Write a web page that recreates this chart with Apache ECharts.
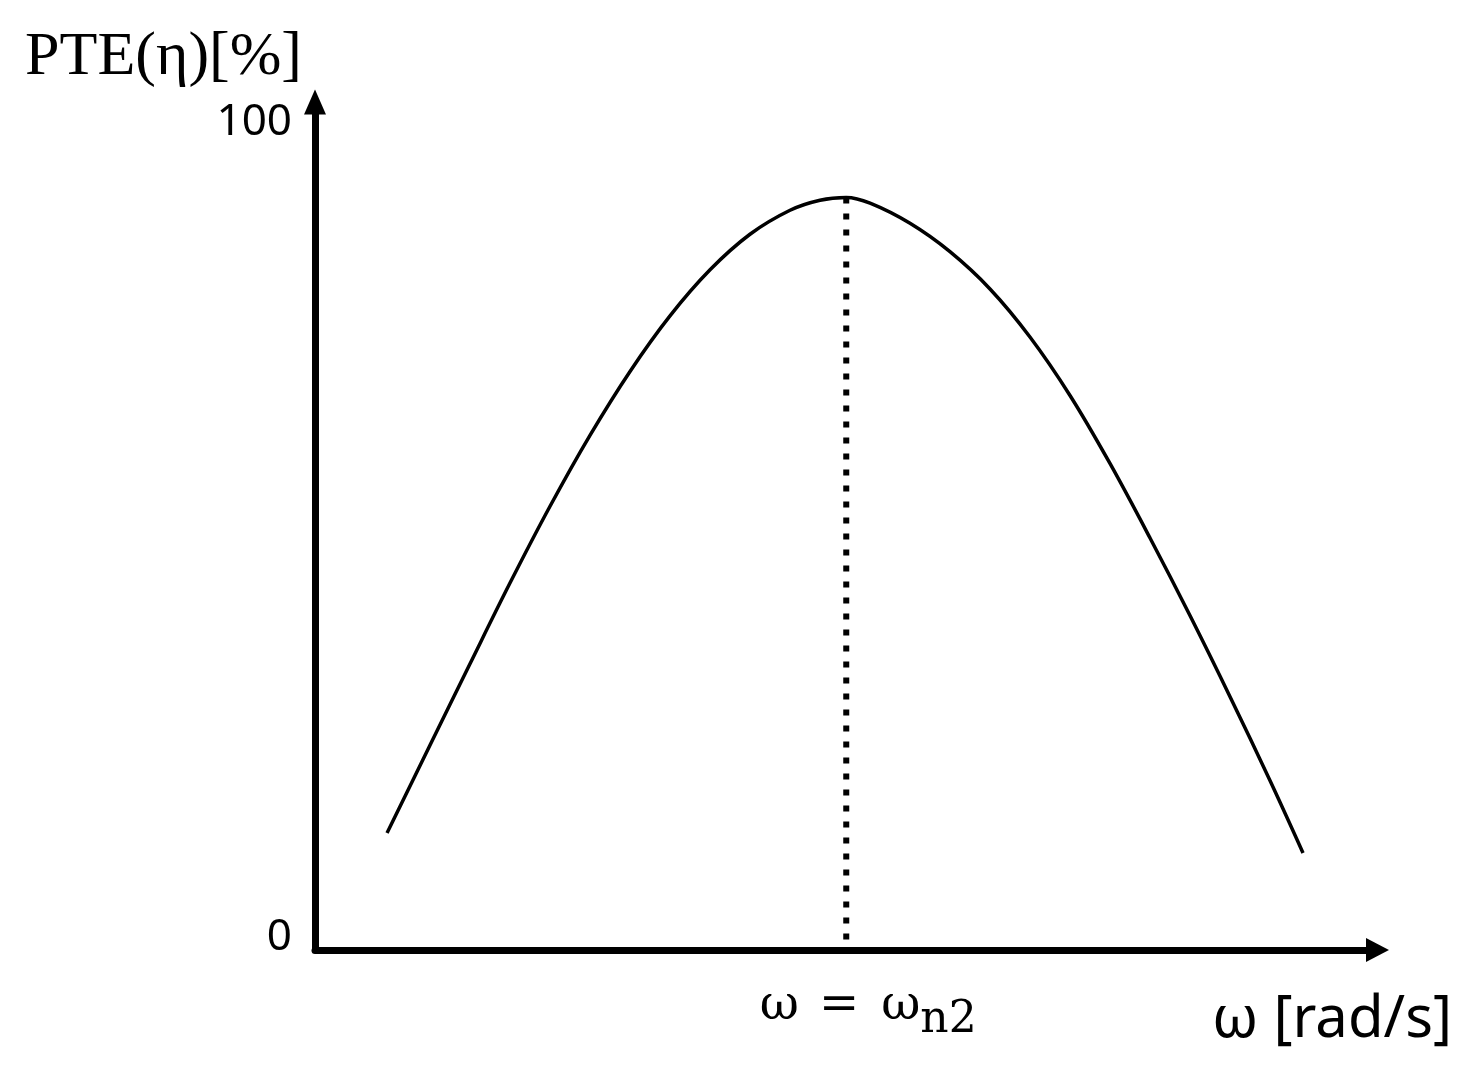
<!DOCTYPE html>
<html>
<head>
<meta charset="utf-8">
<script src="https://cdn.jsdelivr.net/npm/echarts@6/dist/echarts.min.js"></script>
<style>
  html, body { margin: 0; padding: 0; background: #ffffff; }
  #chart { width: 1481px; height: 1076px; }
</style>
</head>
<body>
<div id="chart"></div>
<script>
// ---- data ----
const curveOmega = [6.78, 10.82, 14.59, 18.35, 22.12, 25.88, 29.65, 33.41, 37.18, 40.94, 44.71, 47.53, 50.00,
                    52.24, 56.00, 59.76, 63.53, 67.29, 71.06, 74.82, 78.59, 82.35, 86.12, 89.88, 92.99];
const curvePTE   = [14.35, 25.10, 35.11, 45.00, 54.42, 63.12, 70.96, 77.77, 83.42, 87.78, 90.72, 91.95, 92.29,
                    91.59, 89.12, 85.64, 81.07, 75.18, 68.01, 59.67, 50.53, 41.02, 31.07, 20.78, 11.90];
const peakOmega = 50;
const peakPTE = 92.29;
const yTickLabels = [0, 100];
const yAxisName = 'PTE(η)[%]';
const xAxisName = 'ω [rad/s]';

const chart = echarts.init(document.getElementById('chart'), null, { renderer: 'canvas' });

const option = {
  backgroundColor: '#ffffff',
  animation: false,
  grid: {
    left: 315, right: 103.5, top: 102, bottom: 126,
    containLabel: false, outerBoundsMode: 'none'
  },
  xAxis: {
    type: 'value',
    min: 0, max: 100, interval: 50,
    name: xAxisName,
    nameLocation: 'end',
    nameGap: 74.5,
    nameMoveOverlap: false,
    nameTextStyle: {
      fontFamily: 'Noto Sans', fontSize: 58, color: '#000',
      align: 'right', verticalAlign: 'top', lineHeight: 140
    },
    axisLine: {
      show: true, onZero: false,
      symbol: ['none', 'triangle'], symbolSize: [24, 23],
      lineStyle: { color: '#000', width: 7 }
    },
    axisTick: { show: false },
    splitLine: { show: false },
    axisLabel: {
      show: true, margin: 21,
      formatter: function (v) { return v === peakOmega ? '{w|ω}{eq|=}{w2|ω}{s|n2}' : ''; },
      rich: {
        w:  { fontFamily: 'DejaVu Serif', fontSize: 48, color: '#000', padding: [0, 20, 0, 44] },
        eq: { fontFamily: 'DejaVu Serif', fontSize: 48, color: '#000', padding: [0, 22, 0, 0] },
        w2: { fontFamily: 'DejaVu Serif', fontSize: 48, color: '#000' },
        s:  { fontFamily: 'DejaVu Serif', fontSize: 44, color: '#000', padding: [28, 0, 0, 0] }
      }
    }
  },
  yAxis: {
    type: 'value',
    min: 0, max: 104, interval: 100,
    name: yAxisName,
    nameLocation: 'end',
    nameGap: 44,
    nameMoveOverlap: false,
    nameTextStyle: {
      fontFamily: 'Liberation Serif', fontSize: 62, color: '#000',
      align: 'right', verticalAlign: 'middle', padding: [0, 13, 0, 0]
    },
    axisLine: {
      show: true,
      symbol: ['none', 'triangle'], symbolSize: [22, 25],
      lineStyle: { color: '#000', width: 7 }
    },
    axisTick: { show: false },
    splitLine: { show: false },
    axisLabel: {
      show: true, margin: 23,
      fontFamily: 'Noto Sans', fontSize: 44, color: '#000',
      verticalAlign: 'bottom', lineHeight: 25,
      formatter: function (v) { return yTickLabels.indexOf(v) >= 0 ? String(v) : ''; }
    }
  },
  series: [
    {
      type: 'line',
      data: curveOmega.map((x, i) => [x, curvePTE[i]]),
      smooth: 0.34,
      showSymbol: false,
      lineStyle: { color: '#000', width: 3.5 },
      z: 3
    },
    {
      type: 'line',
      data: [[peakOmega, peakPTE], [peakOmega, 0]],
      showSymbol: false,
      lineStyle: { color: '#000', width: 6, type: [6, 10], cap: 'butt' },
      z: 2
    }
  ]
};

chart.setOption(option);
</script>
</body>
</html>
